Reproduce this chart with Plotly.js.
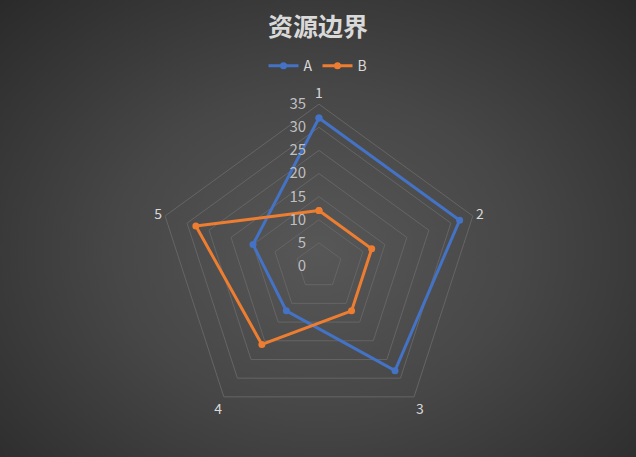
<!DOCTYPE html>
<html>
<head>
<meta charset="utf-8">
<script src="https://cdn.plot.ly/plotly-3.0.1.min.js"></script>
<style>
html, body { margin: 0; padding: 0; }
#chart {
    width: 636px;
    height: 457px;
    background: radial-gradient(ellipse at 50% 55%, #575757 0%, #474747 45%, #2a2a2a 100%);
}
</style>
</head>
<body>
<div id="chart"></div>
<script>
// 雷达图数据
var categories = ['1', '2', '3', '4', '5'];
var seriesA = [32, 32, 28, 12, 15];
var seriesB = [12, 12, 12, 21, 28];
var radialTicks = [0, 5, 10, 15, 20, 25, 30, 35];

// 首尾相连, 闭合多边形
function closeLoop(arr) {
    return arr.concat([arr[0]]);
}

var gridColor = '#656565';
var textColor = '#d9d9d9';
var cjkFont = '"Noto Sans CJK SC", "Noto Sans", sans-serif';

var data = [
    {
        type: 'scatterpolar',
        name: 'A',
        r: closeLoop(seriesA),
        theta: closeLoop(categories),
        mode: 'lines+markers',
        line: { color: '#4472C4', width: 3 },
        marker: { color: '#4472C4', size: 7 }
    },
    {
        type: 'scatterpolar',
        name: 'B',
        r: closeLoop(seriesB),
        theta: closeLoop(categories),
        mode: 'lines+markers',
        line: { color: '#ED7D31', width: 3 },
        marker: { color: '#ED7D31', size: 7 }
    }
];

var layout = {
    width: 636,
    height: 457,
    margin: { l: 0, r: 0, t: 0, b: 0 },
    paper_bgcolor: 'rgba(0,0,0,0)',
    font: { family: cjkFont, color: textColor, size: 14 },
    title: {
        text: '<b>资源边界</b>',
        x: 0.5,
        xanchor: 'center',
        y: 0.94,
        yanchor: 'middle',
        font: { family: cjkFont, size: 25, color: textColor }
    },
    showlegend: true,
    legend: {
        orientation: 'h',
        x: 0.5,
        xanchor: 'center',
        y: 0.855,
        yanchor: 'middle',
        itemwidth: 30,
        font: { size: 14, color: textColor },
        bgcolor: 'rgba(0,0,0,0)'
    },
    polar: {
        domain: { x: [0.247, 0.756], y: [0.064, 0.772] },
        bgcolor: 'rgba(0,0,0,0)',
        gridshape: 'linear',
        radialaxis: {
            range: [0, 35],
            tickvals: radialTicks,
            ticktext: radialTicks.map(function (v) { return v + '   '; }),
            angle: 90,
            tickangle: 90,
            side: 'counterclockwise',
            showline: false,
            ticks: '',
            gridcolor: gridColor,
            gridwidth: 1,
            tickfont: { size: 15, color: '#bfbfbf' }
        },
        angularaxis: {
            type: 'category',
            rotation: 90,
            direction: 'clockwise',
            showgrid: false,
            showline: true,
            linecolor: gridColor,
            linewidth: 1,
            ticks: '',
            tickfont: { size: 14, color: textColor }
        }
    }
};

Plotly.newPlot('chart', data, layout, { displayModeBar: false, staticPlot: true });
</script>
</body>
</html>
